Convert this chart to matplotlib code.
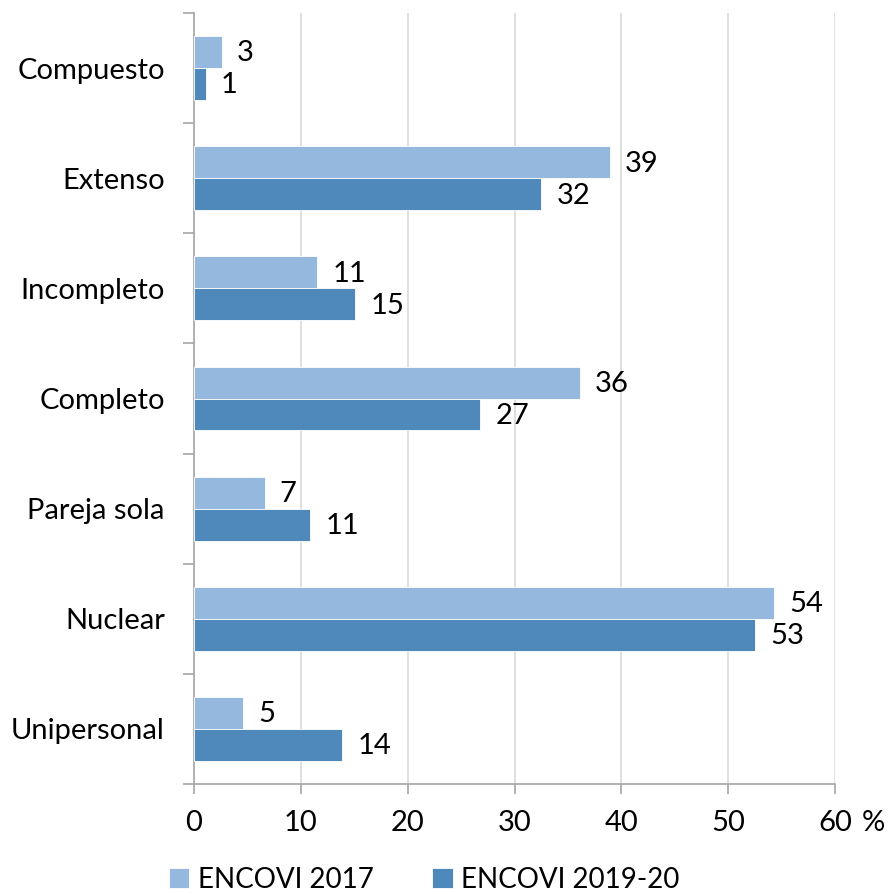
import matplotlib
matplotlib.use("Agg")
import matplotlib.pyplot as plt
import numpy as np

categories = ["Compuesto", "Extenso", "Incompleto", "Completo", "Pareja sola", "Nuclear", "Unipersonal"]
series_names = ["ENCOVI 2017", "ENCOVI 2019-20"]
values_2017 = [2.6, 38.9, 11.5, 36.1, 6.6, 54.3, 4.6]
values_2019 = [1.1, 32.5, 15.1, 26.8, 10.9, 52.5, 13.9]
labels_2017 = ["3", "39", "11", "36", "7", "54", "5"]
labels_2019 = ["1", "32", "15", "27", "11", "53", "14"]
x_ticks = [0, 10, 20, 30, 40, 50, 60]

plt.rcParams['font.family'] = ['Lato', 'DejaVu Sans']
FS = 21

c_light = "#95B8DF"
c_dark = "#4F89BC"

fig = plt.figure(figsize=(8.89, 8.94), dpi=100)
ax = fig.add_axes([194/889, 1-784/894, (835-194)/889, (784-13)/894])

y = np.arange(len(categories))
h = 0.29
ax.barh(y - h/2, values_2017, height=h, color=c_light, edgecolor="white", linewidth=0.6, zorder=3, label=series_names[0])
ax.barh(y + h/2, values_2019, height=h, color=c_dark, edgecolor="white", linewidth=0.6, zorder=3, label=series_names[1])

for yi, v, lab in zip(y - h/2, values_2017, labels_2017):
    ax.annotate(lab, (v, yi), xytext=(11, -1), textcoords="offset points", ha="left", va="center", fontsize=FS)
for yi, v, lab in zip(y + h/2, values_2019, labels_2019):
    ax.annotate(lab, (v, yi), xytext=(11, -1), textcoords="offset points", ha="left", va="center", fontsize=FS)

ax.set_xlim(0, 60)
ax.set_ylim(len(categories) - 0.5, -0.5)
ax.set_xticks(x_ticks)
ax.set_xticklabels([str(t) for t in x_ticks], fontsize=FS)
ax.annotate("%", xy=(x_ticks[-1], 0), xycoords=("data", "axes fraction"),
            xytext=(19, -19), textcoords="offset points", ha="left", va="top", fontsize=FS)
ax.set_yticks(y)
ax.set_yticklabels(categories, fontsize=FS)
ax.set_yticks(np.arange(len(categories) + 1) - 0.5, minor=True)
ax.tick_params(axis="y", which="major", length=0, pad=21)
ax.tick_params(axis="y", which="minor", length=8, color="#A6A6A6", width=1.2, direction="out")
ax.tick_params(axis="x", which="major", length=7, color="#A6A6A6", width=1.2, direction="out", pad=12)

ax.grid(axis="x", color="#D9D9D9", linewidth=1.2, zorder=0)
for s in ["top", "right"]:
    ax.spines[s].set_visible(False)
for s in ["left", "bottom"]:
    ax.spines[s].set_color("#A6A6A6")
    ax.spines[s].set_linewidth(1.2)

fig.legend(loc="center", bbox_to_anchor=(424/889, 1-880/894), ncol=2, frameon=False,
           fontsize=20, handlelength=0.75, handleheight=0.75, handletextpad=0.3, columnspacing=2.1)

fig.savefig("out.png", dpi=100)
